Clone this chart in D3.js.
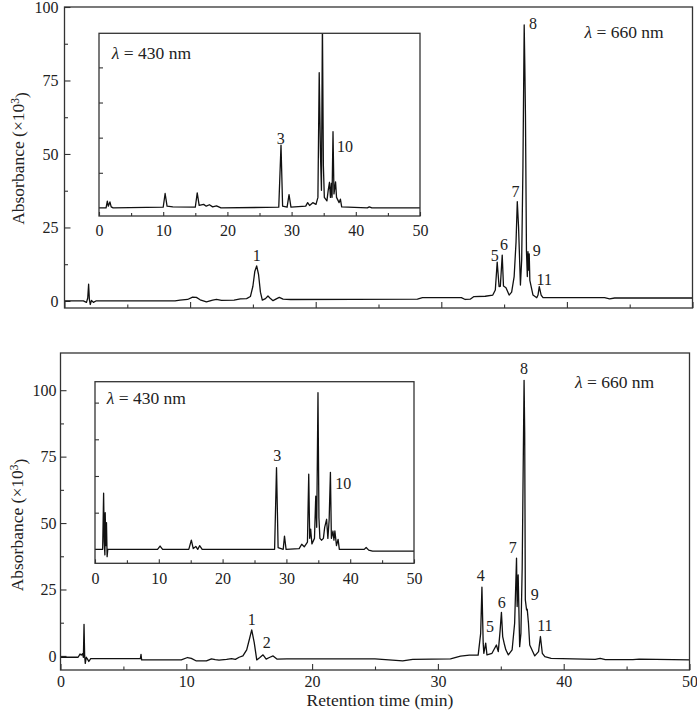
<!DOCTYPE html>
<html>
<head>
<meta charset="UTF-8">
<script src="https://d3js.org/d3.v7.min.js"></script>
<style>
    body { margin: 0; background: #fff; }
    text { font-family: "Liberation Serif", "Times New Roman", serif; fill: #222; }
</style>
</head>
<body>
<div id="chart"></div>
<script>
    // chromatograms: [retention time (min), absorbance]
    const top660 = [[0,0],[1.5,0],[1.75,-0.5],[1.85,1],[1.92,5.7],[1.98,0.5],[2.05,-1.2],[2.15,0.2],[2.3,-0.5],[2.5,0],
        [8.8,0],[9.2,0.3],[9.8,0.5],[10.2,1.3],[10.5,1.2],[10.8,0.4],[11.3,-0.3],[11.8,0.3],[12.1,0.5],[12.5,0.2],
        [13.5,0.3],[14.0,0.7],[14.5,0.8],[14.8,1.5],[15.0,5],[15.15,10],[15.3,11.9],[15.45,9],[15.6,3],[15.75,0.3],
        [16.0,0.8],[16.2,1.7],[16.4,0.8],[16.6,0.1],[16.9,0.8],[17.1,1.2],[17.4,0.6],[18,0.5],[28.1,0.6],[28.5,1.1],
        [31.6,1.1],[31.9,0.5],[32.3,0.6],[32.6,1.5],[33.5,1.6],[34.1,2.0],[34.3,3.7],[34.45,13.2],[34.6,4.9],[34.7,5],
        [34.85,15.6],[34.95,5.1],[35.15,4.5],[35.4,2],[35.6,3],[35.8,8.3],[35.95,20],[36.05,33.8],[36.15,25.3],[36.3,5.4],
        [36.4,14],[36.5,45.7],[36.6,93.9],[36.65,80],[36.7,63.3],[36.78,17],[36.85,8.3],[36.9,16.8],[36.95,10.5],[37.0,16],
        [37.05,7],[37.3,2],[37.6,1.1],[37.7,2],[37.8,4.9],[37.95,2],[38.1,1.1],[43.0,1.1],[43.4,0.7],[43.8,1.0],[50,1.0]];

    const top430 = [[0,0],[1.1,0],[1.3,0.19],[1.45,0.05],[1.7,0.17],[1.9,0.03],[2.2,0],[10.0,0.02],[10.3,0.41],[10.6,0.05],
        [11.5,0.03],[15.0,0.02],[15.3,0.43],[15.6,0.07],[16.3,0.1],[16.7,0.05],[17.2,0.09],[17.7,0.03],[18.3,0.06],[19,0],
        [28.0,0.02],[28.35,1.79],[28.6,0.05],[29.3,0.02],[29.6,0.38],[29.9,0.02],[32.2,0.05],[32.5,0.15],[32.8,0.07],[33.3,0.15],
        [33.8,0.1],[34.1,0.3],[34.3,3.85],[34.5,1.5],[34.65,0.5],[34.8,5.3],[34.95,1.2],[35.1,0.3],[35.5,0.2],[35.7,0.5],
        [35.9,0.73],[36.05,0.3],[36.2,0.7],[36.3,0.3],[36.45,2.17],[36.6,0.4],[36.85,0.74],[37.0,0.3],[37.4,0.15],[37.6,0.25],
        [37.8,0.03],[41.8,0],[42.1,0.03],[42.5,0],[50,0]];

    const bottom660 = [[0,-0.5],[1.4,-0.5],[1.55,0.7],[1.65,0.3],[1.75,0.8],[1.82,-0.5],[1.87,11.9],[1.92,0],[1.97,-2.8],[2.05,-0.5],
        [2.15,-1.2],[2.25,-2.1],[2.4,-1.0],[6.35,-1.0],[6.4,0.6],[6.45,-1.5],[9.6,-1.5],[10.1,-0.6],[10.4,-0.9],[10.8,-1.9],
        [11.6,-1.9],[12.0,-1.1],[12.3,-1.4],[12.6,-1.6],[13.2,-1.3],[13.6,-1.0],[13.9,-1.3],[14.2,-0.5],[14.5,0],[14.8,2.3],
        [15.0,6],[15.2,9.8],[15.4,5],[15.6,-1.5],[15.85,-0.6],[16.1,0.4],[16.35,-1.2],[16.6,-0.6],[16.9,0],[17.2,-1.2],
        [18,-1.1],[25,-1.1],[27.2,-1.9],[28,-1.3],[31.0,-1.1],[31.8,-0.1],[32.5,0.3],[33.2,0.3],[33.4,8.5],[33.5,25.9],
        [33.6,4.8],[33.65,1.0],[33.8,4.8],[33.9,0.4],[34.3,1.0],[34.65,4.1],[34.8,1.6],[34.95,9.8],[35.05,16.4],[35.15,7.3],
        [35.3,4.1],[35.4,2.3],[35.6,0.4],[35.9,2.3],[36.1,12.3],[36.25,36.8],[36.3,18.6],[36.38,30.5],[36.5,3.5],[36.6,8.5],
        [36.7,33],[36.85,103.7],[36.9,83.9],[36.95,21.1],[37.05,17.3],[37.1,17.6],[37.2,12.3],[37.3,4.1],[37.7,0],[38.0,1.6],
        [38.15,7.3],[38.3,1.0],[38.5,-0.3],[39,-0.9],[42.5,-1.3],[42.9,-0.9],[43.3,-1.4],[45.5,-1.4],[46,-1.2],[50,-1.5]];

    const bottom430 = [[0,0],[1.2,0],[1.35,1.53],[1.45,0.2],[1.55,-0.15],[1.6,1.0],[1.7,0.1],[1.8,0.73],[1.9,-0.2],[2.0,0],
        [9.8,0],[10.2,0.09],[10.6,0],[14.7,0],[15.1,0.25],[15.4,0.02],[15.8,0.08],[16.1,0],[16.4,0.1],[16.8,0],
        [28.15,0],[28.45,2.23],[28.7,0.05],[29.5,0],[29.7,0.36],[29.95,0],[32.0,0.02],[32.4,0.14],[32.8,0.07],[33.3,0.2],
        [33.5,2.05],[33.65,0.3],[33.8,0.55],[34.0,0.15],[34.4,0.3],[34.6,1.45],[34.75,0.6],[34.95,4.27],[35.1,0.86],[35.25,0.3],
        [35.5,0.25],[35.8,0.3],[36.0,0.6],[36.3,0.82],[36.5,0.3],[36.7,0.8],[36.9,2.1],[37.05,0.3],[37.3,0.5],[37.45,0.25],
        [37.6,0.5],[37.85,0.1],[38.1,0.27],[38.3,0],[42.2,0],[42.5,0.05],[42.9,-0.02],[43.5,-0.05],[50,-0.05]];

    // peak numbers: [text, time, absorbance] where the label sits
    const top660Labels = [["1",15.3,15.4],["5",34.25,15.6],["6",35.0,19.3],["7",35.9,37.2],["8",37.3,94.5],["9",37.6,17.3],["11",38.2,7.4]];
    const top430Labels = [["3",28.3,1.99],["10",38.3,1.75]];
    const bottom660Labels = [["1",15.2,13.8],["2",16.4,5.2],["4",33.4,30.4],["5",34.15,11.0],["6",35.07,20.2],["7",35.95,40.9],["8",36.85,108.3],["9",37.7,23.0],["11",38.5,11.3]];
    const bottom430Labels = [["3",28.57,2.55],["10",38.9,1.8]];

    const xMajor = [0, 10, 20, 30, 40, 50];
    const xMinor = [5, 15, 25, 35, 45];
    const yMajor = [0, 25, 50, 75, 100];
    const yMinor = [12.5, 37.5, 62.5, 87.5];
    const insetY = [1, 2, 3, 4];

    const svg = d3.select("#chart")
        .append("svg")
        .attr("width", 697)
        .attr("height", 714);

    let clipId = 0;

    function drawPanel(p) {
        const x = d3.scaleLinear().domain([0, 50]).range([p.left, p.right]);
        const y = d3.scaleLinear().domain(p.yDomain).range([p.bottom, p.top]);
        const g = svg.append("g");

        g.append("rect")
            .attr("x", p.left).attr("y", p.top)
            .attr("width", p.right - p.left).attr("height", p.bottom - p.top)
            .attr("fill", "#fff");

        const id = "clip" + (clipId++);
        g.append("clipPath").attr("id", id)
            .append("rect")
            .attr("x", p.left).attr("y", p.top)
            .attr("width", p.right - p.left).attr("height", p.bottom - p.top);

        // x ticks, inward
        g.append("g").attr("transform", `translate(0,${p.bottom})`)
            .call(d3.axisBottom(x).tickValues(xMajor).tickSize(-p.xMajorLen).tickPadding(p.xPad)
                .tickFormat(p.xLabels ? d3.format("d") : ""));
        g.append("g").attr("transform", `translate(0,${p.bottom})`)
            .call(d3.axisBottom(x).tickValues(xMinor).tickSize(-p.xMinorLen).tickFormat(""));

        // y ticks, inward
        g.append("g").attr("transform", `translate(${p.left},0)`)
            .call(d3.axisLeft(y).tickValues(p.yMajor).tickSize(-p.yMajorLen).tickPadding(p.yPad)
                .tickFormat(p.yLabels ? d3.format("d") : ""));
        if (p.yMinor) {
            g.append("g").attr("transform", `translate(${p.left},0)`)
                .call(d3.axisLeft(y).tickValues(p.yMinor).tickSize(-p.yMinorLen).tickFormat(""));
        }
        g.selectAll(".domain").remove();
        g.selectAll(".tick line").attr("stroke", "#333").attr("stroke-width", 1.1);
        g.selectAll(".tick text").style("font-size", "16px").attr("fill", "#222");

        g.append("path")
            .datum(p.data)
            .attr("clip-path", `url(#${id})`)
            .attr("fill", "none")
            .attr("stroke", "#111")
            .attr("stroke-width", 1.3)
            .attr("stroke-linejoin", "round")
            .attr("d", d3.line().x(d => x(d[0])).y(d => y(d[1])));

        g.append("rect")
            .attr("x", p.left).attr("y", p.top)
            .attr("width", p.right - p.left).attr("height", p.bottom - p.top)
            .attr("fill", "none").attr("stroke", "#333").attr("stroke-width", 1.3);

        g.selectAll(".peak")
            .data(p.labels)
            .join("text")
            .attr("class", "peak")
            .attr("x", d => x(d[1]))
            .attr("y", d => y(d[2]))
            .attr("text-anchor", "middle")
            .attr("dy", "0.35em")
            .style("font-size", "16px")
            .text(d => d[0]);

        const lam = g.append("text")
            .attr("x", x(p.lambda[1]))
            .attr("y", y(p.lambda[2]))
            .attr("dy", "0.35em")
            .style("font-size", "17.5px");
        lam.append("tspan").style("font-style", "italic").text("λ");
        lam.append("tspan").text(p.lambda[0]);
    }

    // main panels
    drawPanel({left: 64.5, right: 692.5, top: 7, bottom: 308, yDomain: [-2.4, 100],
        data: top660, labels: top660Labels, lambda: [" = 660 nm", 41.4, 91.4],
        xLabels: false, xMajorLen: 6, xMinorLen: 3.5, xPad: 6,
        yMajor: yMajor, yMinor: yMinor, yLabels: true, yMajorLen: 6, yMinorLen: 3.5, yPad: 6});
    drawPanel({left: 60.5, right: 689.5, top: 353, bottom: 670, yDomain: [-5.3, 114],
        data: bottom660, labels: bottom660Labels, lambda: [" = 660 nm", 40.9, 103.3],
        xLabels: true, xMajorLen: 6, xMinorLen: 3.5, xPad: 6,
        yMajor: yMajor, yMinor: yMinor, yLabels: true, yMajorLen: 6, yMinorLen: 3.5, yPad: 4});

    // insets
    drawPanel({left: 99, right: 420, top: 33.3, bottom: 216, yDomain: [-0.23, 4.97],
        data: top430, labels: top430Labels, lambda: [" = 430 nm", 2.0, 4.4],
        xLabels: true, xMajorLen: 4, xMinorLen: 3, xPad: 9,
        yMajor: insetY, yLabels: false, yMajorLen: 4, yPad: 4});
    drawPanel({left: 95, right: 414, top: 381.7, bottom: 563.3, yDomain: [-0.38, 4.57],
        data: bottom430, labels: bottom430Labels, lambda: [" = 430 nm", 1.83, 4.12],
        xLabels: true, xMajorLen: 4, xMinorLen: 3, xPad: 9,
        yMajor: insetY, yLabels: false, yMajorLen: 4, yPad: 4});

    // axis titles
    function yTitle(cx, cy) {
        const t = svg.append("text")
            .attr("transform", `translate(${cx},${cy}) rotate(-90)`)
            .attr("text-anchor", "middle")
            .attr("dy", "0.35em")
            .style("font-size", "17.5px");
        t.append("tspan").text("Absorbance (×10");
        t.append("tspan").attr("dy", "-0.45em").style("font-size", "11.5px").text("3");
        t.append("tspan").attr("dy", "0.45em").text(")");
    }
    yTitle(18, 158.5);
    yTitle(17, 525);

    svg.append("text")
        .attr("x", 380)
        .attr("y", 700)
        .attr("text-anchor", "middle")
        .attr("dy", "0.35em")
        .style("font-size", "17.5px")
        .text("Retention time (min)");
</script>
</body>
</html>
